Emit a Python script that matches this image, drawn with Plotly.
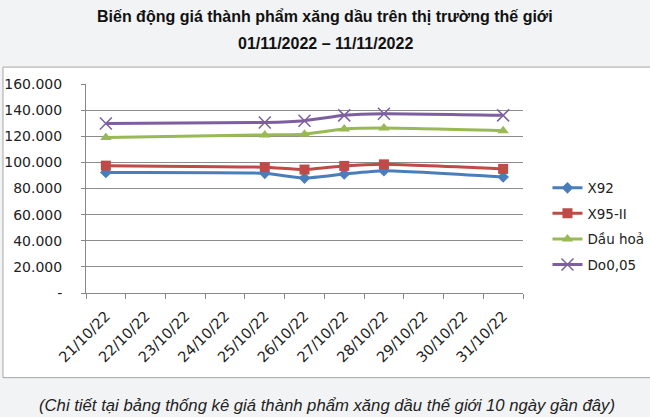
import plotly.graph_objects as go

categories = ["21/10/22", "22/10/22", "23/10/22", "24/10/22", "25/10/22", "26/10/22",
              "27/10/22", "28/10/22", "29/10/22", "30/10/22", "31/10/22"]
dates = ["21/10/22", "25/10/22", "26/10/22", "27/10/22", "28/10/22", "31/10/22"]
x92 = [92.3, 91.6, 88.0, 91.1, 93.6, 88.8]
x95 = [97.5, 96.3, 94.5, 97.3, 98.5, 95.0]
dau_hoa = [119.1, 121.0, 121.6, 125.5, 126.3, 124.3]
do005 = [129.7, 130.5, 131.9, 136.0, 137.2, 136.0]
y_ticks = [0, 20, 40, 60, 80, 100, 120, 140, 160]
y_tick_labels = ["-", "20.000", "40.000", "60.000", "80.000", "100.000", "120.000", "140.000", "160.000"]

series = [
    ("X92", x92, "#4A7EBB", "diamond", 9),
    ("X95-II", x95, "#BE4B48", "square", 10),
    ("Dầu hoả", dau_hoa, "#98B954", "triangle-up", 10),
    ("Do0,05", do005, "#7D5FA0", "x-thin-open", 12),
]

fig = go.Figure()
for i, (name, vals, color, sym, sz) in enumerate(series):
    fig.add_trace(go.Scatter(
        x=dates, y=vals, name=name, mode="lines+markers",
        line=dict(color=color, width=3, shape="spline", smoothing=0.5),
        marker=dict(symbol=sym, size=sz, color=color,
                    line=dict(color=color, width=1.5 if sym.startswith("x") else 0)),
        legendgroup=str(i),
    ))

font = "Liberation Sans, Arial, sans-serif"
fig.update_layout(
    width=650, height=417,
    margin=dict(l=86, r=127, t=84, b=124, autoexpand=False),
    paper_bgcolor="#F2F3F5",
    plot_bgcolor="white",
    showlegend=True,
    legend=dict(x=1.056, y=0.318, xanchor="left", yanchor="middle",
                font=dict(family="DejaVu Sans", size=13.5, color="#222"),
                tracegroupgap=5, bgcolor="rgba(0,0,0,0)", itemwidth=30),
    xaxis=dict(type="category", categoryorder="array", categoryarray=categories,
               range=[-0.5, len(categories) - 0.5],
               tickson="boundaries", ticks="outside", ticklen=5, tickcolor="#888",
               tickangle=-45, showgrid=False, showline=True, linecolor="#888",
               ticklabelstandoff=8, automargin=False,
               tickfont=dict(family="DejaVu Sans", size=14.5, color="#222")),
    yaxis=dict(range=[0, 160], tickvals=y_ticks, ticktext=y_tick_labels,
               showgrid=True, gridcolor="#8C8C8C", gridwidth=1,
               ticks="outside", ticklen=4, tickcolor="#888",
               showline=True, linecolor="#888", zeroline=False,
               ticklabelstandoff=16, automargin=False,
               tickfont=dict(family="DejaVu Sans", size=14, color="#222")),
    shapes=[dict(type="rect", xref="paper", yref="paper", layer="below",
                 x0=-0.19, x1=1.30, y0=-0.405, y1=1.081,
                 fillcolor="white", line=dict(color="#A6A6A6", width=1))],
    annotations=[
        dict(text="<b>Biến động giá thành phẩm xăng dầu trên thị trường thế giới</b>",
             xref="paper", yref="paper", x=0.547, y=1.3206, yanchor="middle",
             showarrow=False, font=dict(family=font, size=16, color="#111")),
        dict(text="<b>01/11/2022 – 11/11/2022</b>",
             xref="paper", yref="paper", x=0.547, y=1.196, yanchor="middle",
             showarrow=False, font=dict(family=font, size=16, color="#111")),
        dict(text="<i>(Chi tiết tại bảng thống kê giá thành phẩm xăng dầu thế giới 10 ngày gần đây)</i>",
             xref="paper", yref="paper", x=0.552, y=-0.536, yanchor="middle",
             showarrow=False, font=dict(family=font, size=16.7, color="#222")),
    ],
)

fig.write_html("out.html", config={"displayModeBar": False},
               post_script="document.body.style.margin='0';document.body.style.overflow='hidden';")
